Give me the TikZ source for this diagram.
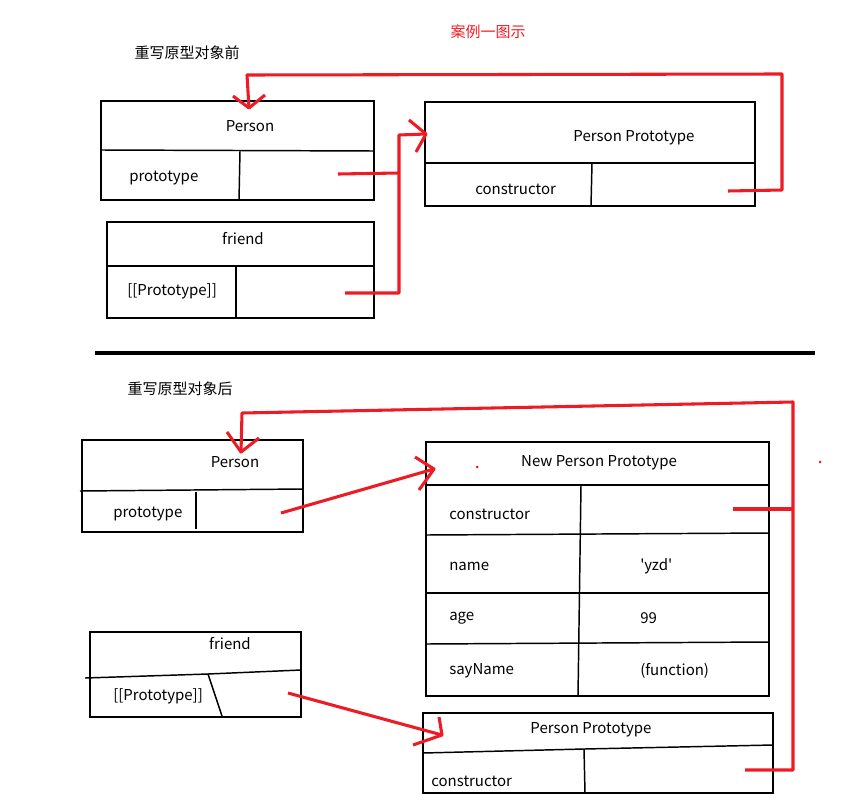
\documentclass[tikz,border=0pt]{standalone}
\usepackage{fontspec}
\setmainfont{Noto Sans CJK SC}
\usetikzlibrary{fit}
\definecolor{pred}{RGB}{237,28,36}
\begin{document}
\begin{tikzpicture}[x=0.75pt,y=-0.75pt,
  boxst/.style={draw, line width=1.1pt, inner sep=0pt},
  divl/.style={line width=1.1pt},
  redl/.style={draw=pred, line width=2.3pt, line join=round},
  lbl/.style={inner sep=0pt, yshift=-1pt, font=\fontsize{11.25pt}{13pt}\selectfont},
  lblw/.style={lbl, anchor=west}]
\path[use as bounding box] (0,0) rectangle (848,799);

% ---------- titles ----------
\node[lbl, text=pred] (title) at (488,30) {案例一图示};
\node[lbl] (before) at (187,51) {重写原型对象前};
\node[lbl] (after) at (180,387) {重写原型对象后};

% ---------- top: Person ----------
\coordinate (pa1) at (101,101); \coordinate (pa2) at (374,200);
\node[boxst, fit=(pa1)(pa2)] (personA) {};
\draw[divl] (101,150) -- (374,151);
\draw[divl] (240,151) -- (239,200);
\node[lbl] (personAt) at (250,125) {Person};
\node[lblw] (personAp) at (129,177) {prototype};

% ---------- top: friend ----------
\coordinate (fa1) at (107,222); \coordinate (fa2) at (374,318);
\node[boxst, fit=(fa1)(fa2)] (friendA) {};
\draw[divl] (107,266) -- (374,266);
\draw[divl] (236,266) -- (236,318);
\node[lbl] (friendAt) at (243,237) {friend};
\node[lblw] (friendAp) at (127,290) {[[Prototype]]};

% ---------- top: Person Prototype ----------
\coordinate (ra1) at (425,102); \coordinate (ra2) at (755,206);
\node[boxst, fit=(ra1)(ra2)] (protoA) {};
\draw[divl] (425,163) -- (755,163);
\draw[divl] (592,163) -- (591,206);
\node[lbl] (protoAt) at (634,136) {Person Prototype};
\node[lblw] (protoAc) at (475,188) {constructor};

% ---------- top red connectors ----------
\coordinate (a1s) at (338,174); \coordinate (a1e) at (399,173);
\coordinate (a2s) at (345,293); \coordinate (a2b) at (399,293);
\coordinate (a2c) at (399,135); \coordinate (a2t) at (426,134);
\coordinate (a2u) at (409,120); \coordinate (a2l) at (416,152);
\draw[redl] (a1s) -- (a1e);
\draw[redl] (a2s) -- (a2b) -- (a2c) -- (a2t);
\draw[redl] (a2u) -- (a2t) -- (a2l);
\coordinate (a3s) at (728,191); \coordinate (a3b) at (782,190);
\coordinate (a3c) at (782,74); \coordinate (a3d) at (247,75);
\coordinate (a3t) at (249,108);
\coordinate (a3u) at (233,96); \coordinate (a3v) at (265,95);
\draw[redl] (a3s) -- (a3b) -- (a3c) -- (a3d) -- (a3t);
\draw[redl] (a3u) -- (a3t) -- (a3v);

% ---------- separator ----------
\coordinate (sep1) at (95,353); \coordinate (sep2) at (815,353);
\draw[line width=2.4pt] (sep1) -- (sep2);

% ---------- bottom: Person ----------
\coordinate (pb1) at (82,440); \coordinate (pb2) at (303,532);
\node[boxst, fit=(pb1)(pb2)] (personB) {};
\draw[divl] (80,491) -- (303,489);
\draw[divl] (196,492) -- (196,529);
\node[lbl] (personBt) at (235,461) {Person};
\node[lblw] (personBp) at (113,513) {prototype};

% ---------- bottom: New Person Prototype ----------
\coordinate (nb1) at (426,442); \coordinate (nb2) at (769,696);
\node[boxst, fit=(nb1)(nb2)] (newproto) {};
\draw[divl] (426,485) -- (769,485);
\draw[divl] (426,535) -- (769,533);
\draw[divl] (426,593) -- (769,593);
\draw[divl] (426,644) -- (769,642);
\draw[divl] (581,485) -- (578,696);
\node[lbl] (newprotot) at (599,461) {New Person Prototype};
\node[lblw] (nc) at (449,513) {constructor};
\node[lblw] (nn) at (449,565) {name};
\node[lblw] (nnv) at (640,565) {\textquotesingle yzd\textquotesingle};
\node[lblw] (na) at (449,617) {age};
\node[lblw] (nav) at (640,617) {99};
\node[lblw] (ns) at (449,669) {sayName};
\node[lblw] (nsv) at (640,669) {(function)};

% ---------- bottom: friend ----------
\coordinate (fb1) at (90,632); \coordinate (fb2) at (301,717);
\node[boxst, fit=(fb1)(fb2)] (friendB) {};
\draw[divl] (85,678) -- (208,674) -- (301,670);
\draw[divl] (208,674) -- (222,716);
\node[lbl] (friendBt) at (230,642) {friend};
\node[lblw] (friendBp) at (113,695) {[[Prototype]]};

% ---------- bottom: Person Prototype ----------
\coordinate (rb1) at (423,713); \coordinate (rb2) at (773,793);
\node[boxst, fit=(rb1)(rb2)] (protoB) {};
\draw[divl] (423,753) -- (584,749) -- (773,745);
\draw[divl] (584,749) -- (585,793);
\node[lbl] (protoBt) at (591,728) {Person Prototype};
\node[lblw] (protoBc) at (431,780) {constructor};

% ---------- bottom red connectors ----------
\coordinate (b1s) at (281,513); \coordinate (b1t) at (434,469);
\coordinate (b1u) at (415,457); \coordinate (b1l) at (419,490);
\draw[redl] (b1s) -- (b1t);
\draw[redl] (b1u) -- (b1t) -- (b1l);
\coordinate (b2s) at (288,693); \coordinate (b2t) at (442,735);
\coordinate (b2u) at (439,717); \coordinate (b2l) at (413,745);
\draw[redl] (b2s) -- (b2t);
\draw[redl] (b2u) -- (b2t) -- (b2l);
\coordinate (b3s) at (733,509); \coordinate (b3j) at (793,509);
\coordinate (b4s) at (745,770); \coordinate (b4b) at (793,770);
\coordinate (b4c) at (793,402); \coordinate (b4d) at (242,413);
\coordinate (b4t) at (241,452);
\coordinate (b4u) at (227,432); \coordinate (b4v) at (259,438);
\draw[redl] (b3s) -- (b3j);
\draw[redl] (b4s) -- (b4b) -- (b4c) -- (b4d) -- (b4t);
\draw[redl] (b4u) -- (b4t) -- (b4v);
\fill[pred] (477,467) circle (1.5);
\fill[pred] (820,462) circle (1.5);
\end{tikzpicture}
\end{document}
